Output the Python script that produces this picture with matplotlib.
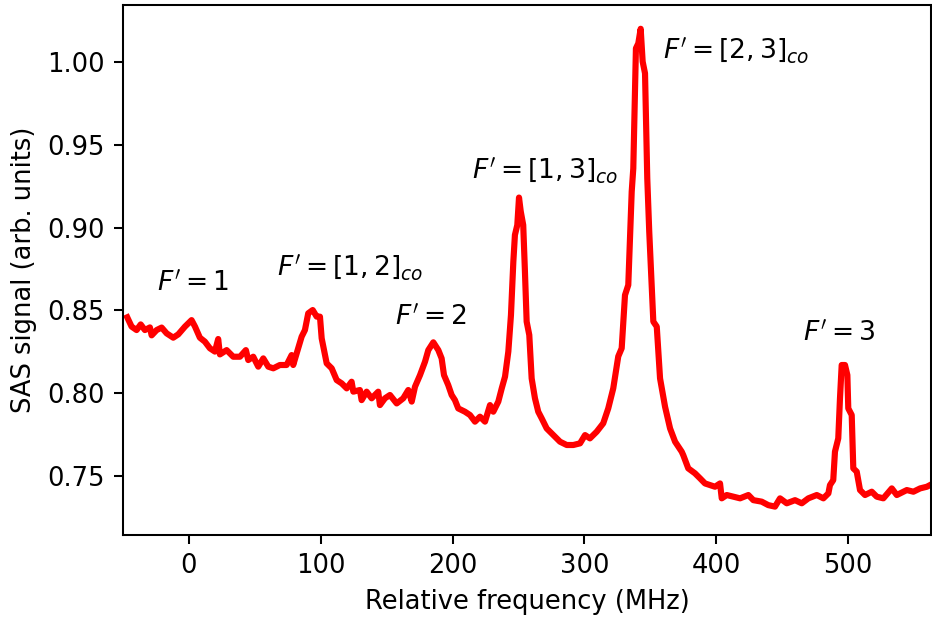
import matplotlib
matplotlib.use("Agg")
import matplotlib.pyplot as plt

# relative frequency (MHz) and SAS signal
freq = [-46.8, -43.5, -39.7, -36.6, -33.4, -29.6, -28.3, -24.5, -20.7, -16.9,
        -11.9, -8.1, -3.0, 2.0, 4.6, 8.3, 12.1, 15.9, 19.7, 22.2,
        23.5, 28.6, 33.6, 38.7, 43.2, 45.0, 48.8, 52.6, 56.4, 60.2,
        64.0, 69.0, 74.1, 77.9, 79.1, 81.7, 85.5, 88.0, 90.5, 93.9,
        96.9, 99.4, 100.7, 104.5, 108.3, 112.1, 115.9, 119.7, 123.4, 124.7,
        129.7, 131.0, 134.8, 138.6, 143.6, 144.9, 148.7, 152.5, 157.6, 162.6,
        166.4, 169.0, 171.5, 175.3, 179.1, 181.6, 185.4, 189.2, 191.7, 193.5,
        196.7, 199.3, 201.8, 204.3, 209.4, 213.2, 217.0, 220.8, 224.6, 228.4,
        230.9, 234.7, 237.3, 239.8, 242.3, 244.3, 246.1, 247.3, 249.1, 250.4,
        251.7, 253.6, 254.9, 256.2, 258.2, 260.0, 262.5, 265.0, 267.6, 271.4,
        276.4, 281.5, 286.6, 291.6, 296.7, 300.5, 304.2, 309.3, 314.3, 318.1,
        321.9, 325.7, 328.3, 330.8, 333.3, 335.9, 337.1, 339.1, 340.9, 342.7,
        344.2, 346.0, 347.7, 349.2, 352.3, 354.9, 357.4, 361.2, 365.0, 368.8,
        373.8, 375.0, 378.8, 383.9, 387.7, 391.5, 395.3, 399.1, 402.9, 404.2,
        408.0, 413.0, 418.1, 424.4, 428.2, 434.5, 439.5, 444.6, 448.4, 453.5,
        459.8, 464.9, 469.9, 476.3, 481.3, 485.1, 486.3, 488.8, 490.1, 492.6,
        493.9, 495.2, 497.7, 499.5, 500.2, 502.8, 504.0, 506.6, 509.1, 512.9,
        518.0, 521.8, 526.8, 533.2, 537.0, 544.6, 549.6, 554.7, 559.8, 562.2]

signal = [0.8458, 0.8402, 0.8381, 0.8415, 0.8381, 0.8397, 0.8349, 0.8381, 0.8396, 0.8361,
          0.8335, 0.8355, 0.8402, 0.8441, 0.8402, 0.8335, 0.8311, 0.8271, 0.8251, 0.8327,
          0.8234, 0.8260, 0.8220, 0.8220, 0.8260, 0.8200, 0.8220, 0.8160, 0.8210, 0.8160,
          0.8150, 0.8170, 0.8170, 0.8230, 0.8170, 0.8240, 0.8341, 0.8381, 0.8482, 0.8502,
          0.8462, 0.8462, 0.8331, 0.8180, 0.8150, 0.8079, 0.8059, 0.8029, 0.8069, 0.8009,
          0.8019, 0.7958, 0.8009, 0.7969, 0.8009, 0.7928, 0.7969, 0.7989, 0.7938, 0.7969,
          0.8019, 0.7949, 0.8039, 0.8109, 0.8190, 0.8260, 0.8307, 0.8260, 0.8210, 0.8109,
          0.8049, 0.7989, 0.7958, 0.7908, 0.7888, 0.7868, 0.7828, 0.7858, 0.7828, 0.7928,
          0.7888, 0.7949, 0.8029, 0.8100, 0.8251, 0.8472, 0.8794, 0.8955, 0.9015, 0.9181,
          0.9098, 0.9015, 0.8734, 0.8432, 0.8351, 0.8089, 0.7969, 0.7888, 0.7848, 0.7787,
          0.7747, 0.7707, 0.7687, 0.7687, 0.7697, 0.7747, 0.7727, 0.7767, 0.7818, 0.7908,
          0.8029, 0.8222, 0.8271, 0.8592, 0.8653, 0.9217, 0.9357, 1.0082, 1.0112, 1.0200,
          1.0002, 0.9931, 0.9297, 0.8975, 0.8432, 0.8402, 0.8089, 0.7918, 0.7787, 0.7707,
          0.7647, 0.7626, 0.7546, 0.7516, 0.7486, 0.7455, 0.7445, 0.7435, 0.7455, 0.7365,
          0.7385, 0.7375, 0.7365, 0.7385, 0.7354, 0.7345, 0.7324, 0.7315, 0.7365, 0.7335,
          0.7354, 0.7335, 0.7365, 0.7385, 0.7365, 0.7395, 0.7445, 0.7475, 0.7647, 0.7727,
          0.7969, 0.8170, 0.8170, 0.8109, 0.7908, 0.7868, 0.7546, 0.7526, 0.7415, 0.7385,
          0.7405, 0.7375, 0.7365, 0.7425, 0.7385, 0.7415, 0.7405, 0.7425, 0.7435, 0.7445]

# transition labels: (text, x, y)
labels = [r"$F'=1$", r"$F'=[1,2]_{co}$", r"$F'=2$", r"$F'=[1,3]_{co}$",
          r"$F'=[2,3]_{co}$", r"$F'=3$"]
label_x = [-24.5, 66.5, 156.3, 214.7, 359.9, 466.1]
label_y = [0.8619, 0.8711, 0.8415, 0.9297, 1.0022, 0.8317]

fig = plt.figure(figsize=(932 / 185, 617 / 185), dpi=185)
ax = fig.add_axes([0.132, 0.133, 0.867, 0.859])
ax.plot(freq, signal, color="red", linewidth=2.4)

for txt, lx, ly in zip(labels, label_x, label_y):
    ax.text(lx, ly, txt, ha="left", va="baseline", fontsize=10.3)

ax.set_xlim(-50, 563)
ax.set_ylim(0.7144, 1.0344)
ax.set_xticks([0, 100, 200, 300, 400, 500])
ax.set_yticks([0.75, 0.80, 0.85, 0.90, 0.95, 1.00])
ax.set_xlabel("Relative frequency (MHz)")
ax.set_ylabel("SAS signal (arb. units)")

fig.savefig("out.png", dpi=185)
